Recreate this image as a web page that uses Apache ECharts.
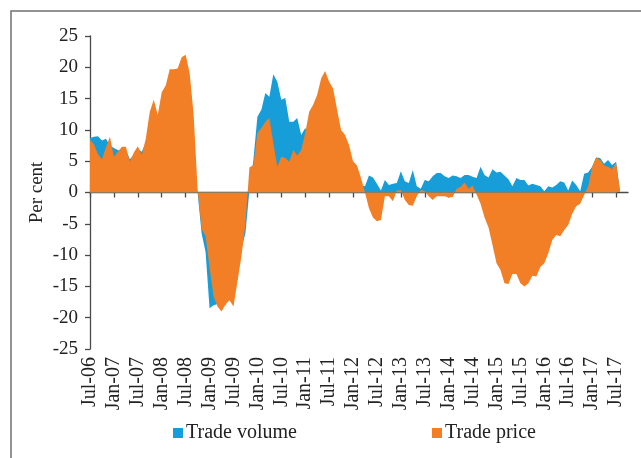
<!DOCTYPE html>
<html>
<head>
<meta charset="utf-8">
<script src="https://cdn.jsdelivr.net/npm/echarts@6/dist/echarts.min.js"></script>
<style>
  html, body { margin: 0; padding: 0; background: #fff; }
  #chart { width: 641px; height: 458px; }
</style>
</head>
<body>
<div id="chart"></div>
<script>
// month labels, Jul-06 .. Oct-17
const monthNames = ["Jan", "Feb", "Mar", "Apr", "May", "Jun", "Jul", "Aug", "Sep", "Oct", "Nov", "Dec"];
const months = [];
for (let i = 0; i < 136; i++) {
  const m = (6 + i) % 12;
  const y = 6 + Math.floor((6 + i) / 12);
  months.push(monthNames[m] + "-" + String(y).padStart(2, "0"));
}

// trade volume (per cent), one row per Jul..Jun year
const tradeVolume = [
  8.7, 8.9, 9.0, 8.3, 8.6, 7.5, 7.1, 6.8, 6.5, 6.8, 5.3, 6.0,
  6.9, 6.5, 8.0, 9.5, 11.0, 10.5, 12.0, 13.0, 14.0, 13.5, 13.0, 12.0,
  10.5, 8.0, 5.0, 0.0, -6.5, -9.5, -18.5, -18.0, -17.8, -17.5, -18.0, -16.0,
  -16.0, -13.8, -9.0, -6.5, 0.3, 5.2, 12.1, 13.2, 15.9, 15.3, 18.9, 17.7,
  14.8, 15.1, 11.3, 11.3, 11.9, 9.2, 10.3, 9.0, 8.0, 7.0, 6.0, 5.5,
  5.0, 4.5, 4.0, 3.5, 3.0, 2.5, 2.0, 1.5, 1.1, 1.0, 2.7, 2.4,
  1.4, 0.3, 2.0, 1.2, 1.4, 1.5, 3.4, 1.8, 1.5, 3.6, 1.0, 0.6,
  2.0, 1.8, 2.6, 3.1, 3.1, 2.6, 2.3, 2.7, 2.6, 2.3, 2.8, 2.8,
  2.5, 2.3, 4.1, 2.8, 2.4, 3.7, 3.2, 3.3, 2.7, 2.1, 1.0, 2.3,
  2.0, 2.0, 1.1, 1.4, 1.2, 1.0, 0.2, 1.0, 0.8, 1.2, 1.8, 1.6,
  0.3, 1.9, 1.2, 0.2, 3.0, 3.2, 4.1, 5.6, 5.5, 4.6, 5.2, 4.4,
  4.9, 0.2
];

// trade price (per cent)
const tradePrice = [
  8.4, 7.7, 6.1, 5.3, 7.2, 8.9, 5.7, 6.5, 7.3, 7.3, 4.9, 6.4,
  7.4, 6.0, 8.6, 12.9, 14.8, 12.4, 16.0, 17.1, 19.7, 19.7, 19.8, 21.6,
  22.0, 19.1, 12.5, 0.5, -5.8, -7.0, -12.0, -16.6, -18.2, -19.0, -17.9, -17.2,
  -18.2, -14.2, -10.2, -5.0, 4.0, 4.4, 9.5, 10.3, 11.3, 11.9, 7.9, 4.1,
  5.7, 5.5, 4.9, 6.8, 5.9, 6.8, 9.5, 12.9, 14.0, 15.6, 18.2, 19.4,
  17.7, 16.6, 13.2, 10.0, 9.2, 7.6, 5.0, 4.3, 2.3, 0.0, -2.5, -4.0,
  -4.6, -4.4, -0.6, -0.6, -1.4, 0.3, 0.4, -1.2, -2.0, -2.1, -0.6, 0.4,
  0.2, -0.6, -1.2, -0.6, -0.6, -0.6, -0.8, -0.7, 0.6, 0.9, 1.6, 0.6,
  1.1, -0.3, -1.8, -4.0, -5.6, -8.4, -11.3, -12.4, -14.5, -14.6, -13.0, -13.0,
  -14.5, -15.0, -14.5, -13.3, -13.4, -11.9, -11.3, -9.7, -7.6, -6.8, -7.0, -6.0,
  -5.2, -3.4, -2.2, -1.8, -0.4, 1.0, 4.1, 5.6, 5.2, 4.3, 4.1, 3.7,
  4.8, 0.2
];

const chart = echarts.init(document.getElementById("chart"));
const font = "Liberation Serif";
const axisColor = "#4a4a4a";

const option = {
  animation: false,
  textStyle: { fontFamily: font },
  graphic: [
    {
      type: "rect",
      shape: { x: 11, y: 11, width: 700, height: 500 },
      style: { fill: "none", stroke: "#707070", lineWidth: 1.5 },
    },
  ],
  legend: [
    {
      data: ["Trade volume"],
      left: 173,
      top: 423,
      padding: 0,
      itemWidth: 10,
      itemHeight: 10,
      itemGap: 3,
      icon: "rect",
      textStyle: { fontFamily: font, fontSize: 20, color: "#222", padding: [0, 0, 0, -2] },
    },
    {
      data: ["Trade price"],
      left: 432,
      top: 423,
      padding: 0,
      itemWidth: 10,
      itemHeight: 10,
      icon: "rect",
      textStyle: { fontFamily: font, fontSize: 20, color: "#222", padding: [0, 0, 0, -2] },
    },
  ],
  grid: { left: 90, right: 13, top: 36, bottom: 109 },
  xAxis: [
    {
      type: "category",
      data: months,
      boundaryGap: false,
      position: "bottom",
      axisLine: { show: false, onZero: false },
      axisTick: { show: false },
      axisLabel: {
        interval: 5,
        rotate: 90,
        margin: 8,
        fontFamily: font,
        fontSize: 20,
        color: "#222",
      },
    },
    {
      type: "category",
      data: months,
      boundaryGap: false,
      position: "bottom",
      axisLine: { show: true, onZero: true, lineStyle: { color: axisColor, width: 1.3 } },
      axisTick: { show: true, interval: 5, length: 5, lineStyle: { color: axisColor, width: 1.3 } },
      axisLabel: { show: false },
    },
  ],
  yAxis: {
    type: "value",
    min: -25,
    max: 25,
    interval: 5,
    name: "Per cent",
    nameLocation: "middle",
    nameGap: 43,
    nameMoveOverlap: false,
    nameTextStyle: { fontFamily: font, fontSize: 19, color: "#222" },
    splitLine: { show: false },
    axisLine: { show: true, lineStyle: { color: axisColor, width: 1.3 } },
    axisTick: { show: true, length: 5, lineStyle: { color: axisColor, width: 1.3 } },
    axisLabel: { margin: 12, fontFamily: font, fontSize: 19, color: "#222" },
  },
  series: [
    {
      name: "Trade volume",
      type: "line",
      data: tradeVolume,
      showSymbol: false,
      lineStyle: { width: 0 },
      itemStyle: { color: "#179dd8" },
      areaStyle: { color: "#179dd8", opacity: 1 },
    },
    {
      name: "Trade price",
      type: "line",
      data: tradePrice,
      showSymbol: false,
      lineStyle: { width: 0 },
      itemStyle: { color: "#f27e26" },
      areaStyle: { color: "#f27e26", opacity: 1 },
    },
  ],
};
chart.setOption(option);
</script>
</body>
</html>
